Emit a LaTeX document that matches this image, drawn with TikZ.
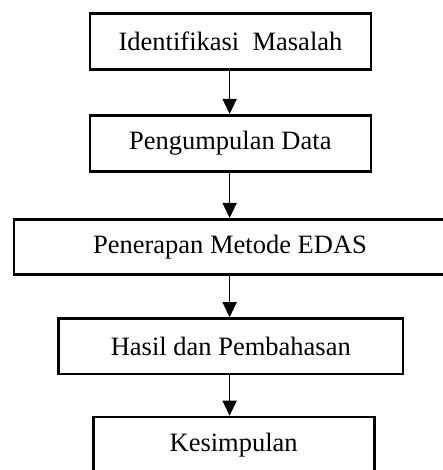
\documentclass[tikz,border=0pt]{standalone}
\usepackage{fontspec}
\setmainfont{Liberation Serif}
\usetikzlibrary{arrows.meta}
\begin{document}
\begin{tikzpicture}[x=1pt,y=1pt,
  stepbox/.style={draw=black,line width=2.6pt,rectangle,inner sep=0pt,
    minimum height=56pt,font=\fontsize{26.5}{30}\selectfont,fill=white},
  flow/.style={line width=1.3pt,-{Triangle[length=15pt,width=14pt]}}]
\useasboundingbox (0,0) rectangle (443,470);
\clip (0,0) rectangle (443,470);
\fill[white] (0,0) rectangle (443,470);
\node[stepbox,minimum width=281pt] (b1) at (230.5,428.5) {Identifikasi\ \ Masalah};
\node[stepbox,minimum width=281pt] (b2) at (230.3,326.7) {Pengumpulan Data};
\node[stepbox,minimum width=432pt,minimum height=55pt] (b3) at (230,223.2) {Penerapan Metode EDAS};
\node[stepbox,minimum width=344.5pt,minimum height=55.5pt] (b4) at (230.8,123.7) {Hasil dan Pembahasan};
\node[stepbox,minimum width=281pt] (b5) at (233.7,25) {Kesimpulan};
\coordinate (ax) at (229.6,0);
\draw[flow] (b1.south -| ax) -- (b2.north -| ax);
\draw[flow] (b2.south -| ax) -- (b3.north -| ax);
\draw[flow] (b3.south -| ax) -- (b4.north -| ax);
\draw[flow] (b4.south -| ax) -- (b5.north -| ax);
\end{tikzpicture}
\end{document}
